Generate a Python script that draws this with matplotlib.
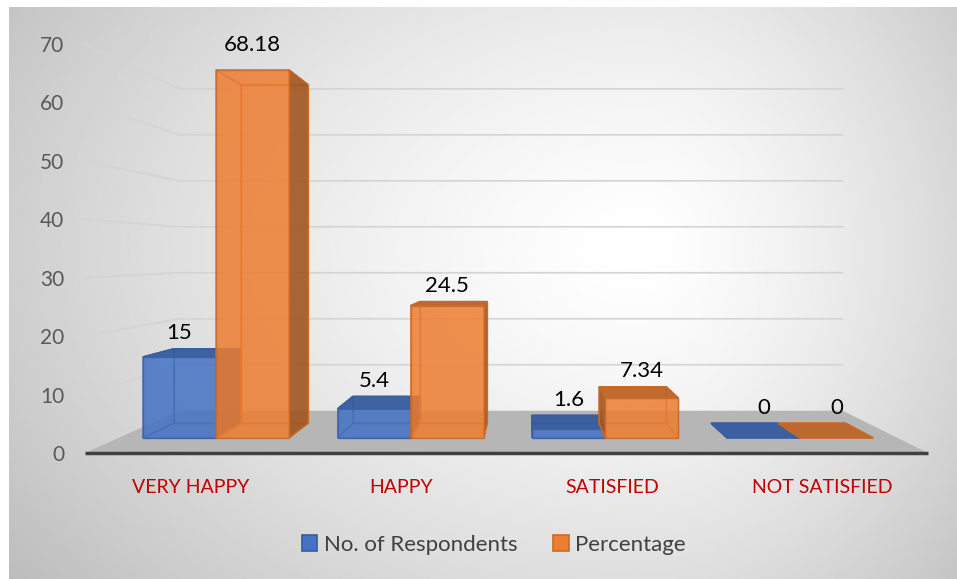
import numpy as np
import matplotlib.pyplot as plt
from matplotlib.patches import Polygon, Patch

categories = ["VERY HAPPY", "HAPPY", "SATISFIED", "NOT SATISFIED"]
respondents = [15, 5.4, 1.6, 0]
percentage = [68.18, 24.5, 7.34, 0]
series_names = ["No. of Respondents", "Percentage"]
y_ticks = [0, 10, 20, 30, 40, 50, 60, 70]

BLUE = np.array([68, 114, 196]) / 255
ORANGE = np.array([237, 125, 49]) / 255
FONT = ["Lato", "DejaVu Sans"]

# perspective: everything shrinks toward a vanishing point (data units)
VX, VY = 1.597, 33.97
S_FRONT, S_BAR_FRONT, S_BAR_BACK, S_WALL = 1.0, 0.924, 0.85, 0.787
BAR_W = 0.375


def proj(x, y, s):
    return VX + (x - VX) * s, VY + (y - VY) * s


def draw_box(ax, x0, x1, h, color, z):
    def face(pts):
        return [proj(x, y, s) for x, y, s in pts]

    f, b = S_BAR_FRONT, S_BAR_BACK
    edge = color * 0.85
    hidden = [
        face([(x0, 0, b), (x1, 0, b), (x1, h, b), (x0, h, b)]),
        face([(x0, 0, f), (x0, 0, b), (x0, h, b), (x0, h, f)]),
        face([(x1, 0, f), (x1, 0, b), (x1, h, b), (x1, h, f)]),
        face([(x0, 0, f), (x1, 0, f), (x1, 0, b), (x0, 0, b)]),
        face([(x0, h, f), (x1, h, f), (x1, h, b), (x0, h, b)]),
    ]
    for pts in hidden:
        ax.add_patch(Polygon(pts, closed=True, fill=False, edgecolor=edge,
                             lw=1, alpha=0.8, zorder=z))
    # faces turned toward the viewer get a shaded fill
    if x1 < VX:
        ax.add_patch(Polygon(hidden[2], closed=True, facecolor=color * 0.68,
                             edgecolor=edge, lw=1, alpha=0.9, zorder=z + 0.1))
    if x0 > VX:
        ax.add_patch(Polygon(hidden[1], closed=True, facecolor=color * 0.68,
                             edgecolor=edge, lw=1, alpha=0.9, zorder=z + 0.1))
    if h < VY:
        ax.add_patch(Polygon(hidden[4], closed=True, facecolor=color * 0.8,
                             edgecolor=edge, lw=1, alpha=0.95, zorder=z + 0.2))
    if h > 0:
        ax.add_patch(Polygon(face([(x0, 0, f), (x1, 0, f), (x1, h, f), (x0, h, f)]),
                             closed=True, facecolor=color, edgecolor=edge,
                             lw=1, alpha=0.85, zorder=z + 0.3))
    tops = [proj(x, h, s) for x in (x0, x1) for s in (f, b)]
    top_y = max(p[1] for p in tops)
    cx = proj((x0 + x1) / 2, h, f)[0]
    return cx, top_y


fig = plt.figure(figsize=(9.57, 5.79), dpi=100, facecolor="white")

# radial gradient chart background
bg = fig.add_axes([9 / 957, 0, 948 / 957, 572 / 579])
gx, gy = np.meshgrid(np.linspace(9, 957, 400), np.linspace(7, 579, 250))
cx, cy = 640, 250
rx = np.where(gx < cx, 680, 400)
d = np.sqrt(((gx - cx) / rx) ** 2 + ((gy - cy) / 470) ** 2)
shade = 1 - 0.21 * np.clip(d, 0, 1.2) ** 1.4
bg.imshow(shade, cmap="gray", vmin=0, vmax=1, aspect="auto",
          extent=[0, 1, 0, 1], interpolation="bilinear")
bg.axis("off")

ax = fig.add_axes([85 / 957, 126 / 579, 843 / 957, 409 / 579])
ax.set_xlim(-0.5, 3.5)
ax.set_ylim(0, 70)
ax.patch.set_visible(False)
for sp in ax.spines.values():
    sp.set_visible(False)

# gridlines on the side wall and back wall
for v in y_ticks[1:]:
    p0 = proj(-0.5, v, S_FRONT)
    p1 = proj(-0.5, v, S_WALL)
    p2 = proj(3.5, v, S_WALL)
    ax.plot([p0[0], p1[0], p2[0]], [p0[1], p1[1], p2[1]], color="#D4D4D4",
            lw=1.2, zorder=1, clip_on=False)

# floor
floor = [proj(-0.5, 0, S_FRONT), proj(3.5, 0, S_FRONT),
         proj(3.5, 0, S_WALL), proj(-0.5, 0, S_WALL)]
ax.add_patch(Polygon(floor, closed=True, facecolor="#B6B6B6", edgecolor="none",
                     zorder=2, clip_on=False))
ax.plot([-0.5, 3.5], [0, 0], color="#404040", lw=2.5, zorder=2.5,
        solid_capstyle="butt", clip_on=False)

x = np.arange(len(categories))
for i in x:
    for k, (vals, col) in enumerate([(respondents, BLUE), (percentage, ORANGE)]):
        x0 = i - BAR_W + k * BAR_W
        lx, ly = draw_box(ax, x0, x0 + BAR_W, vals[i], col, 3 + i + k * 0.5)
        # the tallest column's label sits a little higher above its top
        off = 11 if vals[i] > VY else 4
        ax.annotate(f"{vals[i]:g}", (lx, ly), xytext=(0, off),
                    textcoords="offset points", ha="center", va="bottom",
                    fontsize=16, color="black", family=FONT, zorder=10)

ax.set_yticks(y_ticks)
ax.set_yticklabels([str(t) for t in y_ticks], fontsize=15, color="#595959",
                   family=FONT)
ax.set_xticks(x)
ax.set_xticklabels(categories, fontsize=14, color="#C00000", family=FONT)
ax.tick_params(axis="y", length=0, pad=15)
ax.tick_params(axis="x", length=0, pad=19)

handles = [Patch(facecolor=BLUE, edgecolor=BLUE * 0.8, lw=1.2),
           Patch(facecolor=ORANGE, edgecolor=ORANGE * 0.85, lw=1.2)]
fig.legend(handles, series_names, loc="center", ncol=2,
           bbox_to_anchor=(0.516, 0.059), frameon=False, handlelength=0.7,
           handleheight=0.7, handletextpad=0.3, columnspacing=1.6,
           prop={"family": FONT, "size": 16}, labelcolor="#404040")

fig.savefig("out.png", dpi=100, facecolor="white")
